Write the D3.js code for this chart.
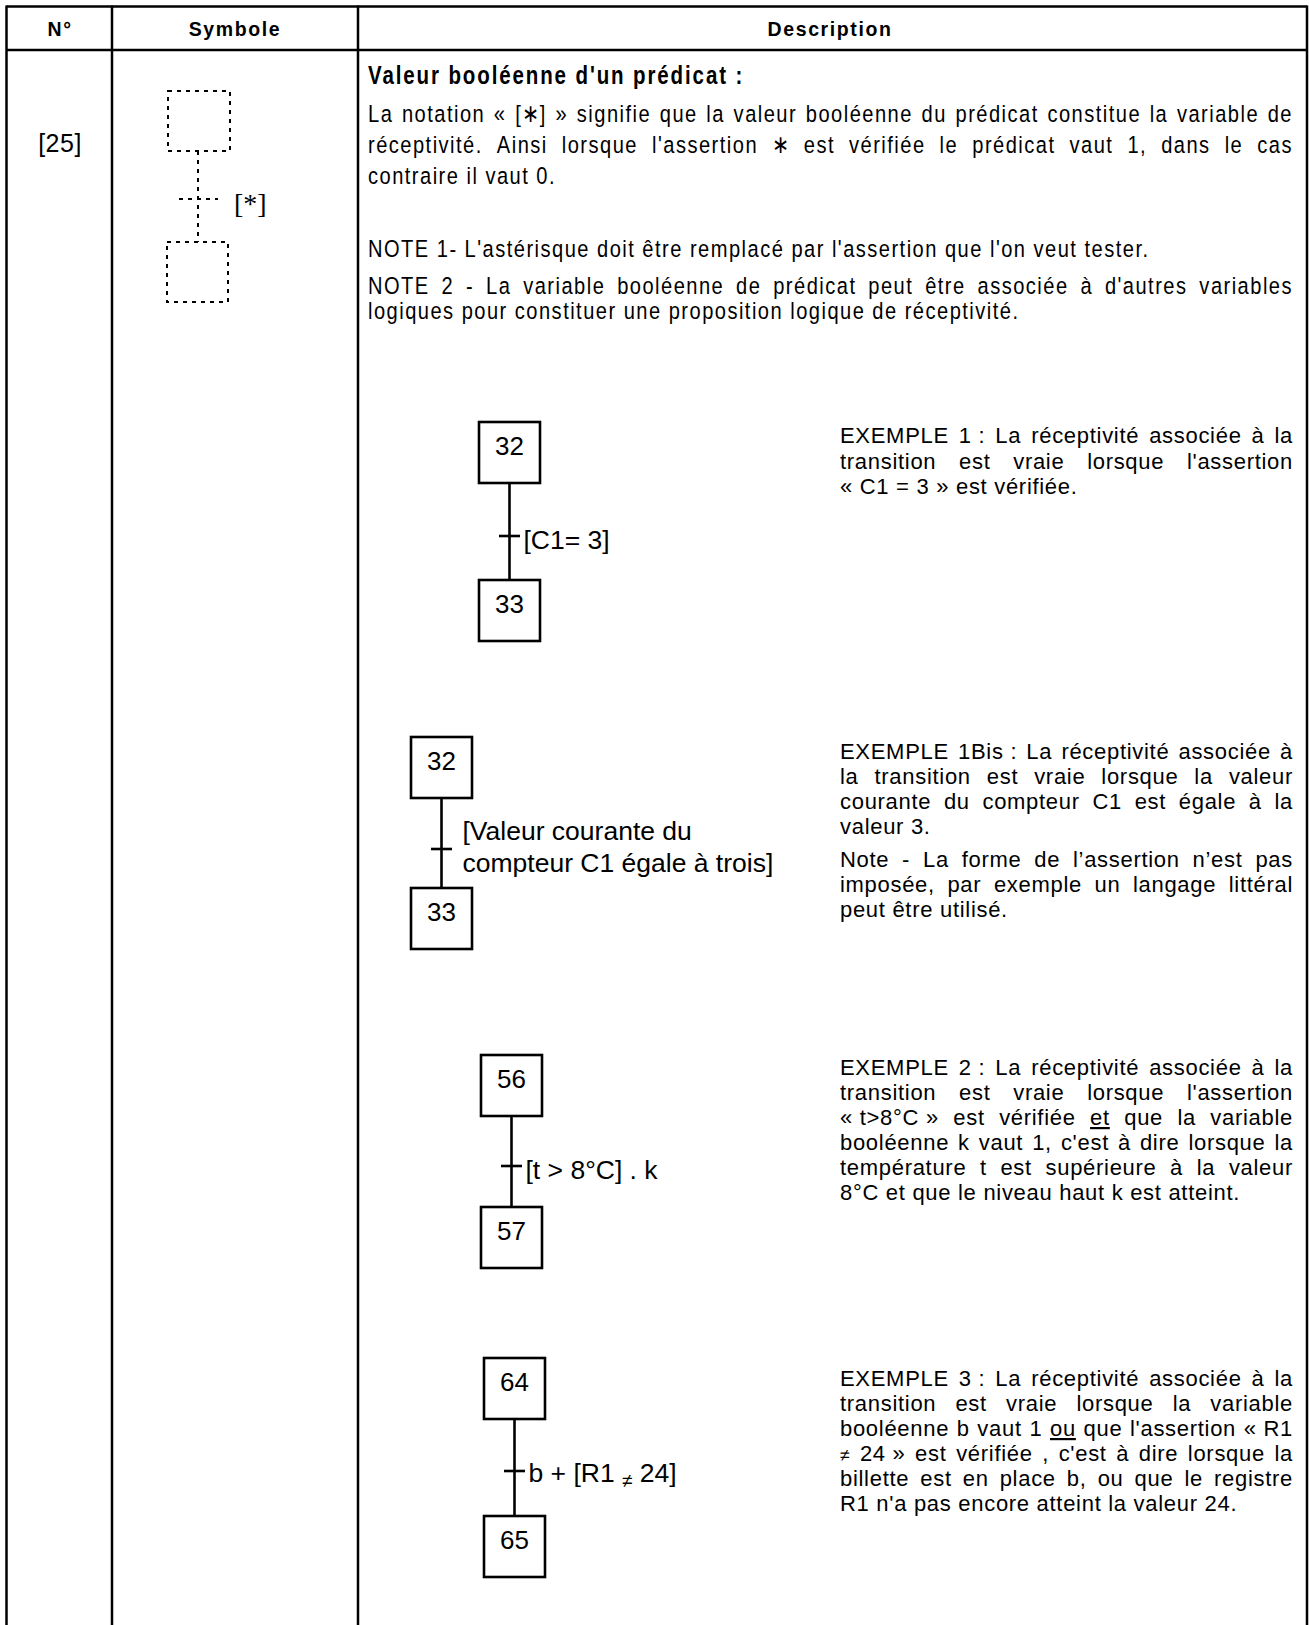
<!DOCTYPE html>
<html><head><meta charset="utf-8">
<script src="https://cdn.jsdelivr.net/npm/d3@7"></script>
<style>html,body{margin:0;padding:0;background:#fff;} svg{display:block}</style>
</head><body>
<script>
// ---------- content ----------
const headers = ["N°", "Symbole", "Description"];
const rowNumber = "[25]";
const symbolLabel = "[*]";
const titleText = "Valeur booléenne d'un prédicat :";
const introLines = [
  "La notation « [∗] » signifie que la valeur booléenne du prédicat constitue la variable de",
  "réceptivité. Ainsi lorsque l'assertion ∗ est vérifiée le prédicat vaut 1, dans le cas",
  "contraire il vaut 0."
];
const note1Lines = ["NOTE 1- L'astérisque doit être remplacé par l'assertion que l'on veut tester."];
const note2Lines = [
  "NOTE 2 - La variable booléenne de prédicat peut être associée à d'autres variables",
  "logiques pour constituer une proposition logique de réceptivité."
];
const exampleSteps = [["32", "33"], ["32", "33"], ["56", "57"], ["64", "65"]];
const exampleConditions = [
  ["[C1= 3]"],
  ["[Valeur courante du", "compteur C1 égale à trois]"],
  ["[t > 8°C] . k"],
  ["b + [R1 ≠ 24]"]
];
const exampleTexts = [
  [["EXEMPLE 1\u00A0: La réceptivité associée à la", "transition est vraie lorsque l'assertion", "«\u00A0C1\u00A0=\u00A03\u00A0» est vérifiée."]],
  [["EXEMPLE 1Bis\u00A0: La réceptivité associée à", "la transition est vraie lorsque la valeur", "courante du compteur C1 est égale à la", "valeur 3."],
   ["Note - La forme de l’assertion n’est pas", "imposée, par exemple un langage littéral", "peut être utilisé."]],
  [["EXEMPLE 2\u00A0: La réceptivité associée à la", "transition est vraie lorsque l'assertion", "«\u00A0t>8°C\u00A0» est vérifiée _et_ que la variable", "booléenne k vaut 1, c'est à dire lorsque la", "température t est supérieure à la valeur", "8°C et que le niveau haut k est atteint."]],
  [["EXEMPLE 3\u00A0: La réceptivité associée à la", "transition est vraie lorsque la variable", "booléenne b vaut 1 _ou_ que l'assertion «\u00A0R1", "≠ 24\u00A0» est vérifiée , c'est à dire lorsque la", "billette est en place b, ou que le registre", "R1 n'a pas encore atteint la valeur 24."]]
];

// ---------- layout ----------
const W = 1309, H = 1625;
const svg = d3.select("body").append("svg").attr("width", W).attr("height", H)
  .style("background", "#fff");

const colX = [6.5, 112, 358, 1307];
const yScale = d3.scaleLinear().domain([0, H]).range([0, H]);

const SANS = "'Liberation Sans', Arial, sans-serif";
const NARROW = "'Liberation Sans Narrow', 'Arial Narrow', 'Liberation Sans'";

function measure(txt, styleFn) {
  const t = svg.append("text").attr("x", -9999).attr("y", -9999).call(styleFn).text(txt);
  const w = t.node().getComputedTextLength();
  t.remove();
  return w;
}
const narrowW = measure("abcdefghijklmnopqrstuvwxyz", s => s.style("font-family", NARROW).style("font-size", "20px"));
const regW = measure("abcdefghijklmnopqrstuvwxyz", s => s.style("font-family", SANS).style("font-size", "20px"));
const narrowOK = narrowW < 0.92 * regW;
const KX = narrowOK ? 1 : 0.82;

// table frame
const frame = svg.append("g").attr("stroke", "#000").attr("fill", "none");
frame.append("line").attr("x1", colX[0]).attr("x2", colX[3]).attr("y1", 6.5).attr("y2", 6.5).attr("stroke-width", 2.5);
frame.append("line").attr("x1", colX[0]).attr("x2", colX[3]).attr("y1", 50).attr("y2", 50).attr("stroke-width", 2.5);
colX.forEach(x => frame.append("line").attr("x1", x).attr("x2", x).attr("y1", 5.5).attr("y2", H).attr("stroke-width", 2.5));

// headers
const headCx = [60, 235, 830];
svg.selectAll("text.head").data(headers).join("text").attr("class", "head")
  .attr("x", (d, i) => headCx[i]).attr("y", 36)
  .attr("text-anchor", "middle")
  .style("font-family", SANS).style("font-weight", "bold").style("font-size", "19.5px")
  .style("letter-spacing", "1.6px").text(d => d);

// row number
svg.append("text").attr("x", 60).attr("y", 152).attr("text-anchor", "middle")
  .style("font-family", SANS).style("font-size", "25px").style("letter-spacing", "0.5px").text(rowNumber);

// symbol (dashed)
const sym = svg.append("g").attr("stroke", "#000").attr("fill", "none")
  .attr("stroke-width", 2).attr("stroke-dasharray", "4,5");
sym.append("rect").attr("x", 168).attr("y", 91).attr("width", 62).attr("height", 60);
sym.append("rect").attr("x", 167).attr("y", 242).attr("width", 61).attr("height", 60);
sym.append("line").attr("x1", 198).attr("x2", 198).attr("y1", 151).attr("y2", 242);
sym.append("line").attr("x1", 179).attr("x2", 218).attr("y1", 199).attr("y2", 199);
svg.append("text").attr("x", 234).attr("y", 213)
  .style("font-family", "'Liberation Serif', serif").style("font-size", "28px").text(symbolLabel);

// paragraph helper (justified)
function drawPara(g, lines, x0, x1, ys, styleFn, kx) {
  kx = kx || 1;
  const gg = g.append("g").attr("transform", `translate(${x0},0) scale(${kx},1)`);
  const width = (x1 - x0) / kx;
  const sp = measure("a a", styleFn) - measure("aa", styleFn);
  lines.forEach((line, i) => {
    const justify = i < lines.length - 1;
    const words = line.split(" ").filter(w => w.length);
    const t = gg.append("text").attr("y", ys[i]).call(styleFn);
    const spans = words.map(w => {
      const u = w.length > 2 && w.startsWith("_") && w.endsWith("_");
      const s = t.append("tspan").text(u ? w.slice(1, -1) : w);
      if (u) s.attr("text-decoration", "underline");
      if (w === "≠") s.style("font-size", "0.8em");
      return s;
    });
    const widths = spans.map(s => s.node().getComputedTextLength());
    const total = d3.sum(widths);
    const gap = (justify && words.length > 1) ? (width - total) / (words.length - 1) : sp;
    let x = 0;
    spans.forEach((s, k) => { s.attr("x", x); x += widths[k] + gap; });
  });
}

const descX0 = 368, descX1 = 1293;
const topStyle = s => s.style("font-family", NARROW).style("font-size", "24.5px")
  .style("letter-spacing", "1.8px").attr("fill", "#000");
const titleStyle = s => s.style("font-family", NARROW).style("font-size", "25px")
  .style("font-weight", "bold").style("letter-spacing", "2.3px");

drawPara(svg, [titleText], descX0, descX1, [84], titleStyle, KX);
drawPara(svg, introLines, descX0, descX1, [122.5, 153.5, 184.5].map(yScale), topStyle, KX);
drawPara(svg, note1Lines, descX0, descX1, [257.5], topStyle, KX);
drawPara(svg, note2Lines, descX0, descX1, [294.5, 319.5], topStyle, KX);

// GRAFCET examples
const diagrams = [
  { bx: 479, top1: 422, top2: 580, tick: 536, labDx: 14, labY: [549] },
  { bx: 411, top1: 737, top2: 888, tick: 849, labDx: 21, labY: [840, 872] },
  { bx: 481, top1: 1055, top2: 1207, tick: 1166, labDx: 14, labY: [1179] },
  { bx: 484, top1: 1358, top2: 1516, tick: 1471, labDx: 14, labY: [1482] }
];
const boxW = 61, boxH = 61;
const labStyle = s => s.style("font-family", SANS).style("font-size", "26.5px");

diagrams.forEach((d, i) => {
  const g = svg.append("g");
  const cx = d.bx + boxW / 2;
  g.append("line").attr("x1", cx).attr("x2", cx).attr("y1", d.top1 + boxH).attr("y2", d.top2)
    .attr("stroke", "#000").attr("stroke-width", 2.6);
  g.append("line").attr("x1", cx - 10.5).attr("x2", cx + 10.5).attr("y1", d.tick).attr("y2", d.tick)
    .attr("stroke", "#000").attr("stroke-width", 2.6);
  [d.top1, d.top2].forEach((ty, k) => {
    g.append("rect").attr("x", d.bx).attr("y", ty).attr("width", boxW).attr("height", boxH)
      .attr("fill", "#fff").attr("stroke", "#000").attr("stroke-width", 2.6);
    g.append("text").attr("x", cx).attr("y", ty + 33).attr("text-anchor", "middle")
      .style("font-family", SANS).style("font-size", "26px").text(exampleSteps[i][k]);
  });
  exampleConditions[i].forEach((line, k) => {
    const t = g.append("text").attr("x", cx + d.labDx).attr("y", d.labY[k]).call(labStyle);
    if (line.includes("≠")) {
      const parts = line.split("≠");
      t.append("tspan").text(parts[0]);
      t.append("tspan").attr("dy", 5).style("font-size", "19px").text("≠");
      t.append("tspan").attr("dy", -5).text(parts[1]);
    } else {
      t.text(line);
    }
  });
});

// example texts
const exX0 = 840, exX1 = 1293;
const exStyle = s => s.style("font-family", SANS).style("font-size", "22px").style("letter-spacing", "0.7px");
const exYs = [
  [[443, 468.5, 494]],
  [[759, 784, 809, 834], [867, 892, 917]],
  [[1075, 1100, 1125, 1150, 1175, 1200]],
  [[1386, 1411, 1436, 1461, 1486, 1511]]
];
exampleTexts.forEach((paras, i) => {
  paras.forEach((lines, p) => drawPara(svg, lines, exX0, exX1, exYs[i][p], exStyle, 1));
});
</script>
</body></html>
